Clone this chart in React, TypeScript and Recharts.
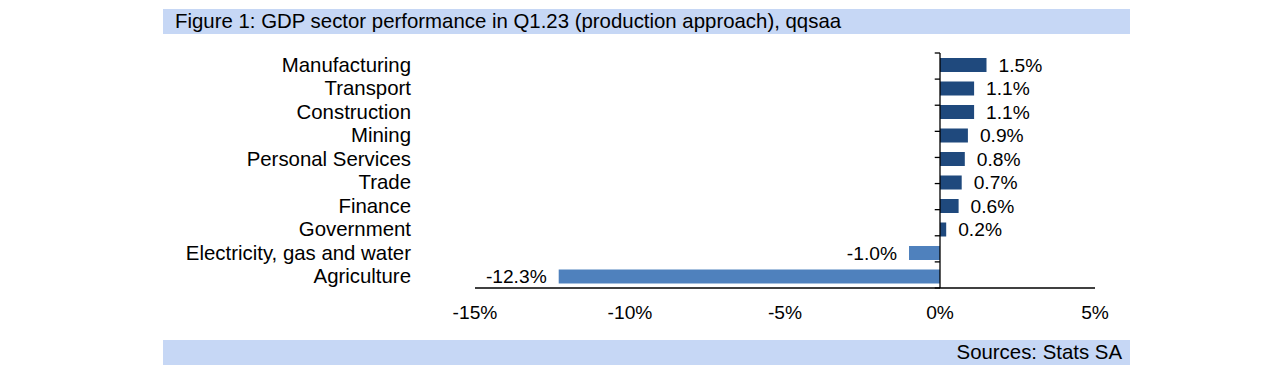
import React from 'react';
import { BarChart, Bar, XAxis, YAxis, Cell, ReferenceLine } from 'recharts';

// Real GDP growth by sector, Q1.23, % q/q seasonally adjusted (not annualised)
const SECTORS = [
  'Manufacturing',
  'Transport',
  'Construction',
  'Mining',
  'Personal Services',
  'Trade',
  'Finance',
  'Government',
  'Electricity, gas and water',
  'Agriculture',
];
const GROWTH = [1.5, 1.1, 1.1, 0.9, 0.8, 0.7, 0.6, 0.2, -1.0, -12.3];
const X_TICKS = [-15, -10, -5, 0, 5];
// band edges on the category axis, used for the small tick marks at 0%
const BAND_EDGES = [0, 1, 2, 3, 4, 5, 6, 7, 8, 9, 10];

const POS_COLOR = '#1F497D';
const NEG_COLOR = '#4F81BD';
const BAND_COLOR = '#C6D7F5';
const FONT = '"Liberation Sans", Arial, sans-serif';
const TEXT_SIZE = 20.4;
const NUM_SIZE = 19.2;

const data = SECTORS.map((sector, i) => ({ sector, growth: GROWTH[i] }));

// bar + its value label (label goes on the outside end of the bar)
const LabelledBar = (props: any) => {
  const { x, y, width, height, fill, payload } = props;
  const left = Math.min(x, x + width);
  const w = Math.abs(width);
  const positive = payload.growth >= 0;
  const tx = positive ? left + w + 12 : left - 12;
  return (
    <g>
      <rect x={left} y={y} width={w} height={height} fill={fill} />
      <text
        x={tx}
        y={y + height / 2}
        dy="0.36em"
        textAnchor={positive ? 'start' : 'end'}
        fontSize={NUM_SIZE}
        fill="#000"
      >
        {payload.growth.toFixed(1)}%
      </text>
    </g>
  );
};

export default function App() {
  return (
    <div style={{ position: 'absolute', left: 0, top: 0, width: 1288, height: 379, background: '#fff', fontFamily: FONT }}>
      <BarChart
        width={1288}
        height={379}
        data={data}
        layout="vertical"
        margin={{ top: 53, right: 193, bottom: 61, left: 0 }}
      >
        <XAxis
          type="number"
          domain={[-15, 5]}
          ticks={X_TICKS}
          tickFormatter={(v) => `${v}%`}
          axisLine={{ stroke: '#000', strokeWidth: 1.3 }}
          tickLine={false}
          tickMargin={11}
          height={30}
          tick={{ fill: '#000', fontSize: NUM_SIZE }}
        />
        <YAxis
          type="category"
          dataKey="sector"
          width={475}
          axisLine={false}
          tickLine={false}
          tickMargin={58}
          interval={0}
          tick={{ fill: '#000', fontSize: TEXT_SIZE }}
        />
        <YAxis yAxisId="edges" type="number" domain={[0, 10]} hide />
        <ReferenceLine x={0} stroke="#000" strokeWidth={1.3} />
        {BAND_EDGES.map((e) => (
          <ReferenceLine
            key={e}
            yAxisId="edges"
            segment={[{ x: -0.17, y: e }, { x: 0, y: e }]}
            stroke="#000"
            strokeWidth={1.3}
          />
        ))}
        <Bar dataKey="growth" barSize={14} shape={<LabelledBar />} isAnimationActive={false}>
          {data.map((d, i) => (
            <Cell key={`cell-${i}`} fill={d.growth >= 0 ? POS_COLOR : NEG_COLOR} />
          ))}
        </Bar>
      </BarChart>

      <div
        style={{
          position: 'absolute', left: 163, top: 9, width: 955, height: 25, paddingLeft: 12,
          background: BAND_COLOR, fontSize: TEXT_SIZE, lineHeight: '25px', color: '#000',
        }}
      >
        Figure 1: GDP sector performance in Q1.23 (production approach), qqsaa
      </div>
      <div
        style={{
          position: 'absolute', left: 163, top: 340, width: 959, height: 25, paddingRight: 8,
          background: BAND_COLOR, fontSize: TEXT_SIZE, lineHeight: '25px', color: '#000', textAlign: 'right',
        }}
      >
        Sources: Stats SA
      </div>
    </div>
  );
}
